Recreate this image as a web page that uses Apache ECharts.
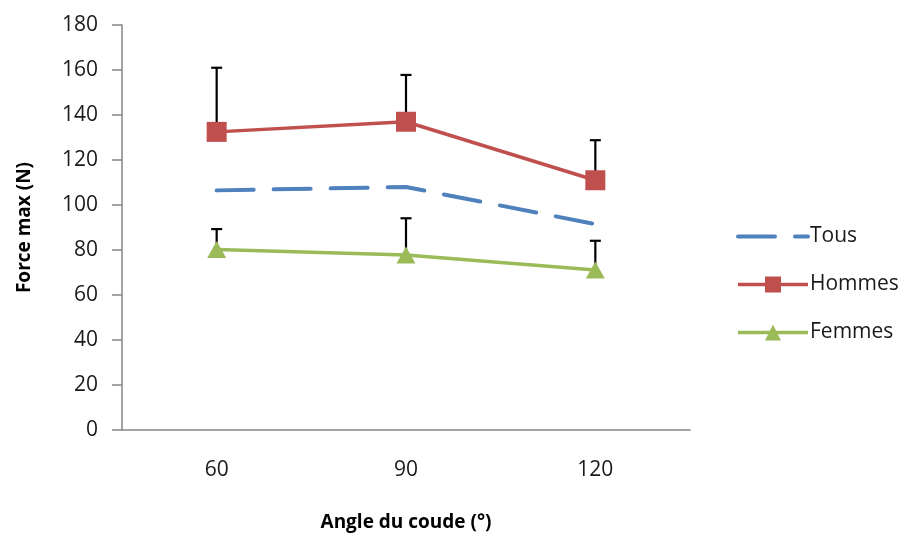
<!DOCTYPE html>
<html>
<head>
<meta charset="utf-8">
<script src="https://cdn.jsdelivr.net/npm/echarts@6/dist/echarts.min.js"></script>
<style>html,body{margin:0;padding:0;background:#fff}#c{width:907px;height:538px}</style>
</head>
<body>
<div id="c"></div>
<script>
var categories = ['60', '90', '120'];
var tous = [106.5, 108, 91.5];
var hommes = [132.5, 137, 111];
var femmes = [80.2, 77.8, 71.1];
var hommesSD = [28.5, 20.8, 17.8];
var femmesSD = [9.1, 16.3, 13];
var yTicks = [0, 20, 40, 60, 80, 100, 120, 140, 160, 180];

var chart = echarts.init(document.getElementById('c'), null, {renderer: 'canvas'});
var font = '"Open Sans", "Noto Sans", sans-serif';

function errData(vals, sd) {
  return vals.map(function (v, i) { return [i, v, v + sd[i]]; });
}
function errRender(params, api) {
  var p0 = api.coord([api.value(0), api.value(1)]);
  var p1 = api.coord([api.value(0), api.value(2)]);
  var half = 5.5;
  var st = {stroke: '#000', lineWidth: 2.2};
  return {
    type: 'group',
    children: [
      {type: 'line', shape: {x1: p0[0], y1: p0[1], x2: p1[0], y2: p1[1]}, style: st},
      {type: 'line', shape: {x1: p1[0] - half, y1: p1[1], x2: p1[0] + half, y2: p1[1]}, style: st}
    ]
  };
}

chart.setOption({
  animation: false,
  backgroundColor: '#fff',
  textStyle: {fontFamily: font},
  grid: {left: 122, right: 217, top: 25, bottom: 108},
  legend: {
    orient: 'vertical',
    left: 731,
    top: 221,
    itemWidth: 70,
    itemHeight: 20,
    itemGap: 27,
    data: [
      {name: 'Tous', itemStyle: {opacity: 0}, lineStyle: {width: 4, type: [37, 20], cap: 'round', color: '#4F81BD'}},
      {name: 'Hommes', lineStyle: {width: 3.5, color: '#C0504D'}},
      {name: 'Femmes', lineStyle: {width: 3.5, color: '#9BBB59'}}
    ],
    textStyle: {fontSize: 21, color: '#1a1a1a', fontFamily: font, padding: [0, 0, 0, -3]}
  },
  xAxis: {
    type: 'category',
    data: categories,
    boundaryGap: true,
    name: 'Angle du coude (°)',
    nameLocation: 'middle',
    nameGap: 83,
    nameTextStyle: {fontSize: 19, fontWeight: 'bold', color: '#000', fontFamily: font},
    axisLine: {lineStyle: {color: '#868686', width: 1.5}},
    axisTick: {show: false},
    axisLabel: {fontSize: 21, color: '#1a1a1a', margin: 30, fontFamily: font}
  },
  yAxis: {
    type: 'value',
    min: 0, max: 180, interval: 20,
    name: 'Force max (N)',
    nameLocation: 'middle',
    nameGap: 88,
    nameTextStyle: {fontSize: 19, fontWeight: 'bold', color: '#000', fontFamily: font},
    axisLine: {show: true, lineStyle: {color: '#868686', width: 1.5}},
    axisTick: {show: true, length: 10, lineStyle: {color: '#868686', width: 1.5}},
    splitLine: {show: false},
    axisLabel: {fontSize: 21, color: '#1a1a1a', margin: 24, fontFamily: font,
      formatter: function (v) { return yTicks.indexOf(v) >= 0 ? String(v) : ''; }}
  },
  series: [
    {
      name: 'Tous', type: 'line', data: tous, z: 3,
      symbol: 'none', color: '#4F81BD',
      lineStyle: {color: '#4F81BD', width: 4, type: [37, 20], cap: 'round', join: 'round'}
    },
    {
      name: 'Hommes', type: 'line', data: hommes, z: 3,
      symbol: 'rect', symbolSize: 20, color: '#C0504D',
      itemStyle: {color: '#C0504D'},
      lineStyle: {color: '#C0504D', width: 3.5, join: 'round'}
    },
    {
      name: 'Femmes', type: 'line', data: femmes, z: 3,
      symbol: 'triangle', symbolSize: [19, 17], color: '#9BBB59',
      itemStyle: {color: '#9BBB59'},
      lineStyle: {color: '#9BBB59', width: 3.5, join: 'round'}
    },
    {
      name: 'errH', type: 'custom', z: 2, data: errData(hommes, hommesSD),
      renderItem: errRender, encode: {x: 0, y: [1, 2]}
    },
    {
      name: 'errF', type: 'custom', z: 2, data: errData(femmes, femmesSD),
      renderItem: errRender, encode: {x: 0, y: [1, 2]}
    }
  ]
});
</script>
</body>
</html>
